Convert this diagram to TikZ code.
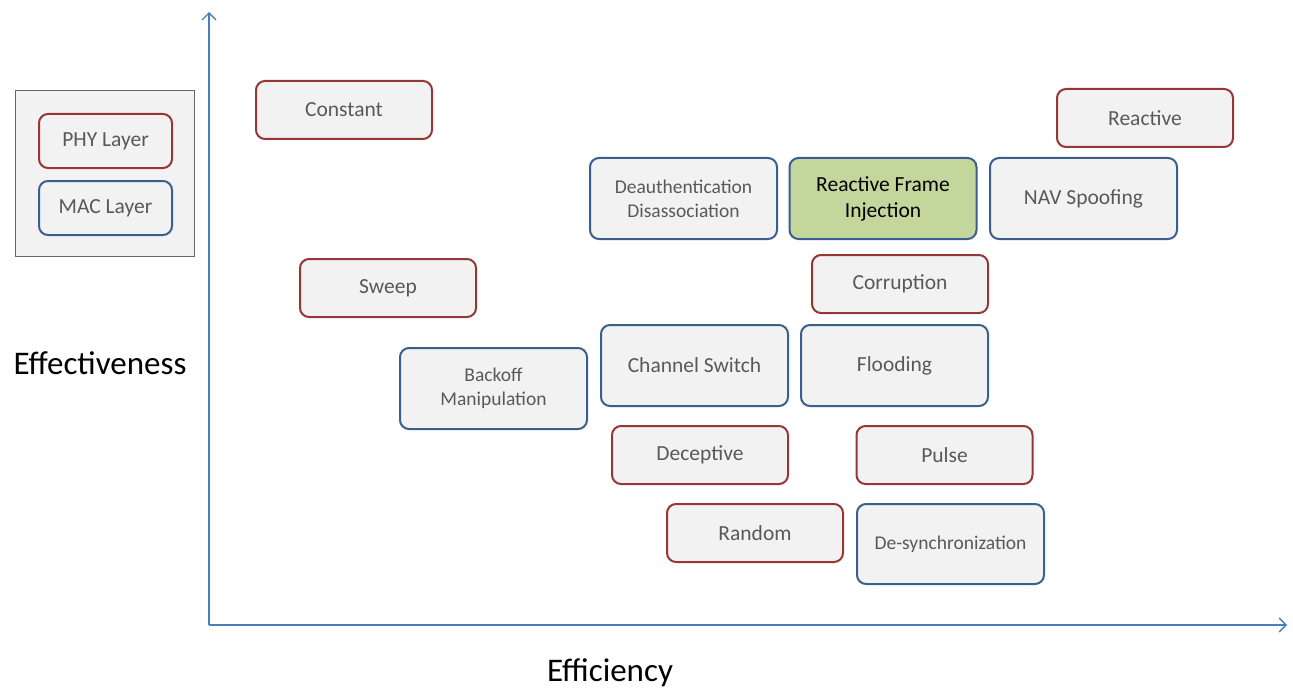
\documentclass[tikz,border=0pt]{standalone}
\usepackage{fontspec}
\setmainfont{Carlito}
\usepackage{xcolor}
\usetikzlibrary{arrows.meta, positioning}

\definecolor{phyred}{HTML}{953735}
\definecolor{macblue}{HTML}{3B5F8C}
\definecolor{boxgray}{HTML}{F2F2F2}
\definecolor{txtgray}{HTML}{595959}
\definecolor{axisblue}{HTML}{4A7EBB}
\definecolor{olive}{HTML}{C3D69B}

\begin{document}
\begin{tikzpicture}[x=1pt, y=-1pt,
        jambox/.style={fill=boxgray, line width=2pt, rounded corners=9pt, align=center, text=txtgray, font=\fontsize{21.5}{26}\selectfont, inner sep=2pt},
        phybox/.style={jambox, draw=phyred, minimum width=176pt, minimum height=58pt},
        macbox/.style={jambox, draw=macblue, minimum width=187pt, minimum height=81pt},
        small/.style={font=\fontsize{19.5}{24}\selectfont},
        axislabel/.style={font=\fontsize{33}{36}\selectfont, text=black}]
    \useasboundingbox (0,0) rectangle (1293,690);

    % legend
    \node (legend) [draw=gray!80!black, fill=boxgray, line width=1pt, minimum width=179pt, minimum height=166pt] at (105,173.5) {};
    \node (phylegend) [phybox, minimum width=133pt, minimum height=54pt] at (105.5,141) {PHY Layer};
    \node (maclegend) [macbox, minimum width=133pt, minimum height=54pt] at (105.5,208) {MAC Layer};

    % axes
    \coordinate (origin) at (209,625);
    \coordinate (ytip) at (209,12);
    \coordinate (xtip) at (1287,625);
    \draw [axisblue, line width=1.3pt, -{Straight Barb[length=7pt, width=14pt]}] (origin) -- (ytip);
    \draw [axisblue, line width=1.3pt, -{Straight Barb[length=7pt, width=14pt]}] (origin) -- (xtip);
    \node (effectiveness) [axislabel] at (100,363) {Effectiveness};
    \node (efficiency) [axislabel] at (610,673) {Efficiency};

    % PHY layer jammers
    \node (constant) [phybox] at (344,110) {Constant};
    \node (reactive) [phybox] at (1145,118) {Reactive};
    \node (sweep) [phybox] at (388,288) {Sweep};
    \node (corruption) [phybox] at (900,284) {Corruption};
    \node (deceptive) [phybox] at (700,455) {Deceptive};
    \node (pulse) [phybox] at (944.5,455) {Pulse};
    \node (random) [phybox] at (755,533) {Random};

    % MAC layer jammers
    \node (deauth) [macbox, small] at (683.5,198.5) {Deauthentication\\Disassociation};
    \node (injection) [macbox, fill=olive, text=black] at (883,198.5) {Reactive Frame\\Injection};
    \node (nav) [macbox] at (1083.5,198.5) {NAV Spoofing};
    \node (backoff) [macbox, small] at (493.5,388.5) {Backoff\\Manipulation};
    \node (chswitch) [macbox] at (694.5,365.5) {Channel Switch};
    \node (flooding) [macbox] at (894.5,365.5) {Flooding};
    \node (desync) [macbox, small, minimum height=80pt] at (950.5,544) {De-synchronization};
\end{tikzpicture}
\end{document}
